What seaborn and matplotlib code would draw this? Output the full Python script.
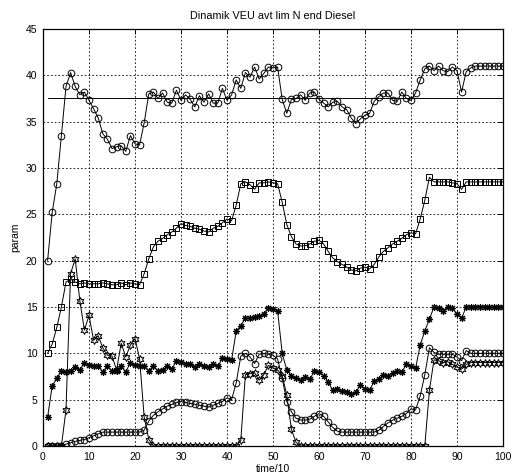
import numpy as np
import pandas as pd
import matplotlib
matplotlib.use("Agg")
import matplotlib.pyplot as plt
import seaborn as sns

# ---------------- data ----------------
t = list(range(1, 101))

top_circles = [20.0, 25.2, 28.3, 33.5, 38.8, 40.3, 38.8, 37.9, 38.2, 37.3,
               36.4, 35.4, 33.7, 33.1, 32.1, 32.3, 32.4, 31.8, 33.5, 32.6,
               32.5, 34.9, 38.0, 38.2, 37.5, 38.1, 37.1, 37.0, 38.4, 37.3,
               37.9, 37.4, 36.6, 37.8, 37.1, 38.0, 37.0, 37.0, 38.6, 37.3,
               37.9, 39.5, 38.6, 40.3, 39.8, 40.9, 39.6, 40.2, 40.9, 40.8,
               40.9, 37.4, 35.9, 37.4, 37.5, 37.9, 37.3, 38.1, 38.2, 37.4,
               37.0, 36.6, 37.1, 37.2, 36.6, 36.3, 35.4, 34.8, 35.3, 35.7,
               35.9, 37.2, 37.7, 38.1, 38.1, 37.3, 37.2, 38.2, 37.5, 37.3,
               38.1, 39.5, 40.7, 41.0, 40.5, 41.0, 40.5, 40.4, 40.9, 40.5,
               38.2, 40.4, 40.8, 41.0, 41.0, 41.0, 41.0, 41.0, 41.0, 41.0]

ref_x = [1, 100]
ref_y = [37.5, 37.5]

squares = [10.0, 11.0, 12.8, 15.0, 17.7, 18.0, 17.7, 17.5, 17.6, 17.5,
           17.5, 17.5, 17.6, 17.5, 17.4, 17.4, 17.6, 17.4, 17.6, 17.5,
           17.4, 18.6, 20.2, 21.5, 22.1, 22.4, 22.8, 23.1, 23.5, 24.0,
           23.8, 23.7, 23.5, 23.4, 23.2, 23.1, 23.5, 23.7, 24.1, 24.5,
           24.3, 26.0, 28.3, 28.5, 28.2, 27.7, 28.4, 28.4, 28.5, 28.4,
           28.3, 26.3, 23.9, 22.6, 21.8, 21.6, 21.6, 21.8, 22.1, 22.2,
           21.8, 21.0, 20.3, 19.9, 19.6, 19.3, 19.0, 18.9, 19.2, 19.3,
           19.1, 19.6, 20.4, 21.0, 21.4, 21.8, 22.1, 22.4, 22.8, 23.0,
           22.9, 24.5, 26.5, 29.0, 28.5, 28.5, 28.5, 28.5, 28.4, 28.3,
           27.7, 28.5, 28.5, 28.5, 28.5, 28.5, 28.5, 28.5, 28.5, 28.5]

asterisks = [3.1, 6.5, 7.3, 8.1, 8.0, 8.1, 8.5, 8.2, 9.0, 8.7,
             8.6, 8.6, 8.0, 8.6, 8.1, 8.1, 8.6, 8.0, 9.0, 8.7,
             8.6, 8.6, 8.1, 8.6, 8.1, 8.2, 8.6, 8.3, 9.2, 9.1,
             8.9, 8.8, 8.5, 8.8, 8.6, 8.5, 8.8, 8.6, 9.5, 9.4,
             9.3, 12.4, 13.0, 13.8, 13.8, 13.9, 14.0, 14.2, 14.9, 14.8,
             14.6, 10.0, 8.2, 7.6, 7.3, 7.1, 7.5, 7.2, 8.1, 8.0,
             7.6, 6.9, 6.0, 6.1, 5.9, 5.8, 5.6, 5.8, 6.6, 6.1,
             6.0, 7.0, 7.2, 7.7, 7.6, 7.9, 8.1, 8.0, 8.8, 8.6,
             8.4, 10.9, 12.4, 13.7, 15.0, 14.9, 14.6, 15.0, 14.9, 14.2,
             13.8, 15.0, 15.0, 15.0, 15.0, 15.0, 15.0, 15.0, 15.0, 15.0]

hexagrams = [0.0, 0.0, 0.0, 0.0, 3.9, 18.6, 20.2, 15.7, 12.5, 14.1,
             11.4, 11.9, 10.6, 9.8, 9.7, 8.2, 11.1, 9.6, 10.9, 11.6,
             9.4, 3.1, 0.7, 0.0, 0.0, 0.0, 0.0, 0.0, 0.0, 0.0,
             0.0, 0.0, 0.0, 0.0, 0.0, 0.0, 0.0, 0.0, 0.0, 0.0,
             0.0, 0.0, 0.6, 7.7, 7.8, 7.9, 7.1, 7.7, 8.7, 8.4,
             8.2, 7.6, 5.5, 1.8, 0.4, 0.0, 0.0, 0.0, 0.0, 0.0,
             0.0, 0.0, 0.0, 0.0, 0.0, 0.0, 0.0, 0.0, 0.0, 0.0,
             0.0, 0.0, 0.0, 0.0, 0.0, 0.0, 0.0, 0.0, 0.0, 0.0,
             0.0, 0.0, 0.0, 6.0, 9.3, 9.2, 9.0, 9.1, 8.8, 8.5,
             8.3, 8.8, 9.0, 9.0, 9.0, 9.0, 9.0, 9.0, 9.0, 9.0]

bottom_circles = [0.0, 0.0, 0.0, 0.0, 0.2, 0.35, 0.5, 0.6, 0.7, 0.9,
                  1.1, 1.3, 1.5, 1.5, 1.5, 1.5, 1.5, 1.5, 1.5, 1.5,
                  1.5, 1.7, 2.7, 3.3, 3.7, 4.0, 4.3, 4.5, 4.7, 4.8,
                  4.7, 4.6, 4.5, 4.4, 4.3, 4.2, 4.4, 4.6, 4.8, 5.2,
                  5.0, 6.8, 9.7, 10.0, 9.6, 8.9, 9.9, 10.0, 9.9, 9.8,
                  9.4, 7.3, 4.8, 3.7, 3.0, 2.8, 2.8, 2.9, 3.2, 3.5,
                  3.2, 2.6, 2.0, 1.6, 1.5, 1.5, 1.5, 1.5, 1.5, 1.5,
                  1.5, 1.5, 1.7, 2.1, 2.5, 2.8, 3.0, 3.2, 3.5, 4.0,
                  3.9, 5.4, 7.7, 10.6, 10.1, 9.9, 9.9, 9.9, 9.9, 9.6,
                  9.2, 10.3, 10.0, 10.0, 10.0, 10.0, 10.0, 10.0, 10.0, 10.0]

x_ticks = [0, 10, 20, 30, 40, 50, 60, 70, 80, 90, 100]
y_ticks = [0, 5, 10, 15, 20, 25, 30, 35, 40, 45]
title_text = "Dinamik VEU avt lim N end Diesel"
x_label = "time/10"
y_label = "param"

# ---------------- styling ----------------
sns.set_theme(style="white")
plt.rcParams['font.family'] = ['Liberation Sans', 'DejaVu Sans']
plt.rcParams['font.size'] = 7.5
plt.rcParams['axes.edgecolor'] = 'black'
plt.rcParams['axes.linewidth'] = 0.9

fig = plt.figure(figsize=(5.14, 4.74), dpi=100)
fig.patch.set_facecolor('white')
ax = fig.add_axes([43/514, 1 - 446/474, (503 - 43)/514, (446 - 29)/474])
ax.set_facecolor('white')

common = dict(ax=ax, color='black', linewidth=0.7, legend=False)

sns.lineplot(x=t, y=top_circles, marker='o', markersize=4.8,
             markerfacecolor='none', markeredgecolor='black', markeredgewidth=0.7, **common)
sns.lineplot(x=ref_x, y=ref_y, **common)
sns.lineplot(x=t, y=squares, marker='s', markersize=4.8,
             markerfacecolor='none', markeredgecolor='black', markeredgewidth=0.7, **common)
sns.lineplot(x=t, y=asterisks, marker=(8, 2, 0), markersize=5.0,
             markerfacecolor='none', markeredgecolor='black', markeredgewidth=0.8, **common)
sns.lineplot(x=t, y=hexagrams, marker=(6, 1, 0), markersize=5.8,
             markerfacecolor='none', markeredgecolor='black', markeredgewidth=0.7, **common)
sns.lineplot(x=t, y=bottom_circles, marker='o', markersize=4.8,
             markerfacecolor='none', markeredgecolor='black', markeredgewidth=0.7, **common)

ax.set_xlim(0, 100)
ax.set_ylim(0, 45)
ax.set_xticks(x_ticks)
ax.set_yticks(y_ticks)
ax.grid(True, color='black', linestyle=(0, (2, 2.5)), linewidth=0.6)
ax.tick_params(direction='in', length=3.5, width=0.7, colors='black',
               top=True, right=True, labelsize=7.5, pad=4)
for s in ax.spines.values():
    s.set_visible(True)
    s.set_color('black')
    s.set_linewidth(0.9)

ax.set_title(title_text, fontsize=7.8, pad=7, color='black')
ax.set_xlabel(x_label, fontsize=7.5, labelpad=2, color='black')
ax.set_ylabel(y_label, fontsize=7.5, labelpad=4, color='black')

fig.savefig("out.png", dpi=100, facecolor='white')
